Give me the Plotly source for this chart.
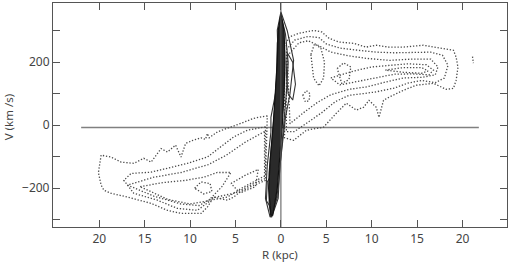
import plotly.graph_objects as go

# ---- data (R in kpc, V in km/s) ----
x_ticks = [-20, -15, -10, -5, 0, 5, 10, 15, 20]
x_ticktext = ["20", "15", "10", "5", "0", "5", "10", "15", "20"]
y_ticks = [-200, 0, 200]
y_ticktext = ["\u2212200", "0", "200"]
y_minor = [-300, -100, 100, 300]

zero_line_r = [-22.0, 21.8]
zero_line_v = [-7, -7]

# right (receding) lobe, dotted contours
rc1_r = [0.4, 0.9, 2.0, 3.6, 4.5, 5.3, 6.4, 8.0, 9.4, 10.5, 11.9, 13.5, 15.7, 17.1, 19.0, 19.3, 19.5, 19.3, 19.0,
         18.2, 16.8, 14.9, 13.5, 11.9, 11.3, 10.8, 10.5, 9.7, 9.1, 8.3, 7.2, 6.1, 4.7, 2.8, 1.4, 0.4, 0.4]
rc1_v = [250, 280, 292, 301, 296, 276, 264, 260, 248, 254, 248, 248, 254, 248, 238, 216, 184, 143, 117,
         114, 133, 127, 111, 89, 79, 25, 57, 79, 57, 48, 70, 38, -6, -16, -48, -40, 250]
rc2_r = [0.6, 1.5, 3.0, 4.2, 5.0, 6.5, 8.5, 10.5, 12.5, 14.5, 16.5, 17.8, 18.4, 18.0, 17.0, 15.5, 14.0, 12.5,
         10.5, 9.0, 7.5, 6.0, 4.5, 3.0, 1.5, 0.6, 0.6]
rc2_v = [240, 270, 282, 278, 258, 245, 238, 232, 230, 232, 232, 222, 190, 150, 135, 142, 134, 118,
         106, 100, 95, 75, 40, 10, -20, -20, 240]
rc3_r = [0.7, 2.0, 3.0, 4.0, 5.5, 7.5, 9.5, 12.0, 14.5, 16.5, 17.3, 17.0, 15.5, 13.5, 11.5, 9.5, 7.5, 5.5,
         4.0, 2.5, 1.0, 0.7]
rc3_v = [220, 262, 268, 255, 232, 220, 212, 206, 210, 210, 185, 160, 152, 150, 137, 122, 114, 97,
         72, 40, 5, 220]
rc4_r = [5.5, 8.0, 10.0, 12.0, 14.0, 16.0, 16.8, 16.3, 14.5, 12.5, 10.5, 8.5, 6.5, 5.5]
rc4_v = [150, 172, 185, 190, 195, 192, 175, 160, 163, 162, 150, 138, 128, 150]
rc5_r = [11.5, 13.5, 15.5, 16.2, 15.5, 13.5, 11.5]
rc5_v = [175, 183, 183, 172, 165, 168, 175]
rh1_r = [3.3, 3.7, 4.4, 4.8, 4.7, 4.2, 3.6, 3.3]
rh1_v = [225, 258, 245, 200, 150, 125, 150, 225]
rh2_r = [2.4, 2.8, 3.2, 3.1, 2.7, 2.4]
rh2_v = [95, 110, 100, 78, 74, 95]
rh3_r = [6.2, 6.9, 7.7, 7.5, 6.7, 6.2]
rh3_v = [180, 198, 185, 145, 133, 180]
rdot_r = [21.1, 21.2]
rdot_v = [218, 197]

# left (approaching) lobe, dotted contours
lc1_r = [-1.5, -3.0, -4.4, -5.5, -7.0, -7.9, -8.1, -8.3, -8.8, -9.7, -10.5, -11.0, -11.6, -12.5, -13.2,
         -14.3, -15.1, -16.2, -17.6, -18.7, -19.8, -20.1, -19.8, -19.5, -18.7, -16.9, -14.3, -12.5, -11.0,
         -8.8, -8.1, -7.4, -5.9, -5.2, -4.5, -3.4, -1.7, -1.5]
lc1_v = [30, 22, 6, -6, -21, -40, -26, -45, -40, -48, -58, -101, -63, -85, -74,
         -117, -105, -121, -117, -101, -95, -150, -190, -206, -216, -228, -248, -270, -280,
         -280, -260, -228, -238, -228, -212, -196, -175, 30]
lc2_r = [-1.7, -3.7, -5.2, -6.6, -8.1, -10.3, -12.5, -14.3, -16.5, -17.3, -16.2, -13.6, -11.4, -9.2,
         -7.7, -5.9, -4.1, -1.7, -1.7]
lc2_v = [-5, -16, -37, -69, -101, -121, -137, -149, -153, -175, -216, -238, -264, -270,
         -238, -228, -196, -160, -5]
lc3_r = [-1.8, -4.0, -6.0, -8.0, -11.0, -14.0, -16.9, -14.0, -11.0, -9.0, -7.5, -5.0, -3.0, -1.8, -1.8]
lc3_v = [-20, -55, -95, -125, -150, -165, -190, -225, -250, -255, -230, -215, -185, -170, -20]
lc4_r = [-15.5, -13.0, -10.5, -8.5, -7.0, -5.5, -6.5, -8.0, -10.0, -12.5, -15.5]
lc4_v = [-195, -182, -175, -165, -150, -150, -195, -240, -250, -235, -195]
lc5_r = [-9.5, -8.8, -7.8, -7.6, -8.5, -9.5]
lc5_v = [-200, -180, -185, -210, -218, -200]
lc6_r = [-5.5, -4.0, -2.5, -2.8, -4.5, -5.5]
lc6_v = [-185, -160, -140, -195, -215, -185]

# central band, solid contours
b1_r = [0.0, 0.7, 1.4, 1.2, 1.0, 0.5, 0.3, -0.1, -0.3, -1.0, -1.2, -1.7, -1.5, -1.1, -1.1, -0.6, -0.3, -0.4, 0.0]
b1_v = [360, 300, 206, 150, 100, 25, -22, -127, -232, -290, -290, -232, -127, -22, 25, 100, 206, 302, 360]
b2_r = [0.0, 0.5, 0.8, 0.6, 0.3, 0.0, -0.3, -0.7, -1.1, -1.3, -1.3, -1.0, -0.7, -0.5, -0.4, 0.0]
b2_v = [350, 290, 200, 100, 0, -100, -200, -260, -292, -250, -150, -50, 50, 150, 260, 350]
b3_r = [0.7, 1.3, 1.6, 1.3, 0.8, 0.6, 0.7]
b3_v = [230, 200, 130, 80, 100, 160, 230]
b4_r = [-0.9, -0.5, -0.4, -0.9, -1.6, -1.5, -0.9]
b4_v = [-150, -170, -230, -270, -240, -180, -150]
core_r = [0.0, 0.35, 0.45, 0.35, 0.15, -0.1, -0.4, -0.9, -1.1, -1.35, -1.15, -0.85, -0.6, -0.4, -0.3, 0.0]
core_v = [355, 300, 200, 100, 0, -100, -200, -285, -285, -200, -100, 0, 100, 200, 300, 355]

dotted = [(rc1_r, rc1_v), (rc2_r, rc2_v), (rc3_r, rc3_v), (rc4_r, rc4_v), (rc5_r, rc5_v),
          (rh1_r, rh1_v), (rh2_r, rh2_v), (rh3_r, rh3_v), (rdot_r, rdot_v),
          (lc1_r, lc1_v), (lc2_r, lc2_v), (lc3_r, lc3_v), (lc4_r, lc4_v), (lc5_r, lc5_v), (lc6_r, lc6_v)]
solid = [(b1_r, b1_v), (b2_r, b2_v), (b3_r, b3_v), (b4_r, b4_v)]

AX = "#555555"
fig = go.Figure()

fig.add_trace(go.Scatter(x=zero_line_r, y=zero_line_v, mode="lines",
                         line=dict(color="#808080", width=1.4), hoverinfo="skip"))
for r, v in dotted:
    fig.add_trace(go.Scatter(x=r, y=v, mode="lines",
                             line=dict(color="#4a4a4a", width=1.3, dash="1.3px,1.8px"),
                             hoverinfo="skip"))
for r, v in solid:
    fig.add_trace(go.Scatter(x=r, y=v, mode="lines",
                             line=dict(color="#333333", width=1.1), hoverinfo="skip"))
fig.add_trace(go.Scatter(x=core_r, y=core_v, mode="lines", fill="toself", fillcolor="#2a2a2a",
                         line=dict(color="#111111", width=1.2), hoverinfo="skip"))

fig.add_shape(type="line", x0=0, x1=0, y0=0, y1=1, xref="x", yref="paper",
              line=dict(color="#555555", width=1))

font = dict(family="Noto Sans, Open Sans, sans-serif", size=12, color="#444444")
title_font = dict(family="Noto Sans, Open Sans, sans-serif", size=11.5, color="#444444")
fig.update_layout(
    width=512, height=262, margin=dict(l=53, r=5, t=3, b=35),
    paper_bgcolor="white", plot_bgcolor="white", showlegend=False, font=font,
    xaxis=dict(range=[-25.1, 24.9], tickvals=x_ticks, ticktext=x_ticktext,
               ticks="inside", ticklen=7, tickcolor=AX, showline=True, linecolor=AX,
               linewidth=1.2, mirror="ticks", showgrid=False, zeroline=False),
    yaxis=dict(range=[-323, 388], tickvals=y_ticks, ticktext=y_ticktext,
               ticks="inside", ticklen=7, tickcolor=AX, showline=True, linecolor=AX,
               linewidth=1.2, mirror="ticks", showgrid=False, zeroline=False,
               minor=dict(tickvals=y_minor, ticks="inside", ticklen=7, tickcolor=AX)),
    annotations=[
        dict(text="R (kpc)", x=0.5, y=-0.122, xref="paper", yref="paper", showarrow=False,
             xanchor="center", yanchor="middle", font=title_font),
        dict(text="V (km /s)", x=-0.099, y=0.49, xref="paper", yref="paper", showarrow=False,
             xanchor="center", yanchor="middle", textangle=-90, font=title_font),
    ],
)
fig.write_html("out.html")
